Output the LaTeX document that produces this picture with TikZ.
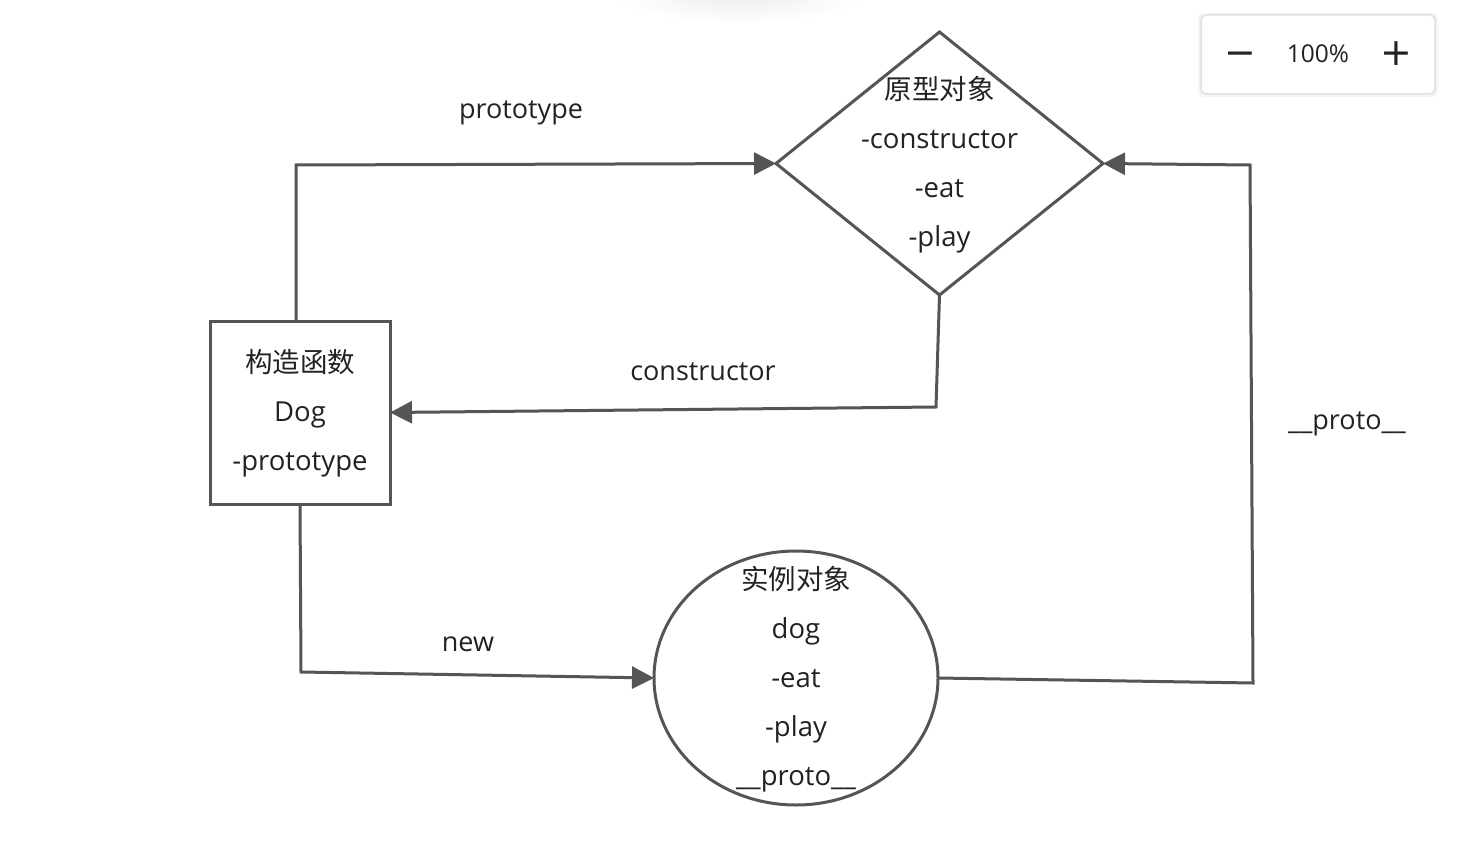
\documentclass[tikz,border=0pt]{standalone}
\usepackage{fontspec}
\setmainfont{Open Sans}
\newfontfamily\cjk{Noto Sans CJK SC}
\newfontfamily\dejavu{DejaVu Sans}
\usetikzlibrary{arrows.meta,shapes.geometric}
\definecolor{lineC}{HTML}{555555}
\definecolor{txtC}{HTML}{222222}
\begin{document}
\begin{tikzpicture}[x=1pt,y=-1pt,
  shapeline/.style={draw=lineC,line width=3pt,fill=white,inner sep=0pt,outer sep=0pt},
  arr/.style={draw=lineC,line width=3pt,-{Triangle[length=22pt,width=22pt]}},
  body/.style={text=txtC,align=center,font=\fontsize{27.5}{49}\selectfont},
  lbl/.style={text=txtC,font=\fontsize{27}{32}\selectfont,inner sep=0pt},
  icon/.style={text=txtC,font=\dejavu\fontsize{38}{38}\selectfont,inner sep=0pt,anchor=base}]
\useasboundingbox (0,0) rectangle (1474,842);
\fill[white] (0,0) rectangle (1474,842);
% top shadow
\begin{scope}
\clip (0,0) rectangle (1474,842);
\shade[inner color=black!8, outer color=white] (740,-10) ellipse (130 and 34);
\end{scope}
% zoom widget
\fill[black!4,rounded corners=6pt] (1198,13) rectangle (1438,97);
\draw[black!12,fill=white,line width=1.5pt,rounded corners=5pt] (1201,15) rectangle (1435,94);
\node[icon] (zminus) at (1240,66) {−};
\node[text=txtC,font=\fontsize{24.5}{28}\selectfont] (zpct) at (1318,54) {100\%};
\node[icon] (zplus) at (1396,66) {+};
% main shapes
\node[shapeline,rectangle,minimum width=180pt,minimum height=183pt] (dog) at (300,412.5) {};
\node[body] at ([yshift=-1pt]dog.center) {{\cjk 构造函数}\\Dog\\-prototype};
\node[shapeline,diamond,minimum width=327pt,minimum height=263pt] (proto) at (939.5,163.5) {};
\node[body] at ([yshift=-1pt]proto.center) {{\cjk 原型对象}\\-constructor\\-eat\\-play};
\node[shapeline,ellipse,minimum width=284pt,minimum height=254pt] (inst) at (796,678) {};
\node[body] at ([yshift=-1pt]inst.center) {{\cjk 实例对象}\\dog\\-eat\\-play\\\_\_proto\_\_};
% connectors
\coordinate (c1) at (296,165);
\draw[arr] (dog.north -| c1) -- (c1) -- (proto.west);
\coordinate (c2) at (936,407);
\draw[arr] (proto.south) -- (c2) -- (dog.east);
\coordinate (c3) at (301,672);
\draw[arr] (dog.south) -- (c3) -- (inst.west);
\coordinate (c4) at (1253,683);
\coordinate (c5) at (1250,165);
\draw[arr] (inst.east) -- (c4) -- (c5) -- (proto.east);
% labels
\node[lbl] (lproto) at (521,113) {prototype};
\node[lbl] (lcons) at (703,372) {constructor};
\node[lbl] (lnew) at (468,644) {new};
\node[lbl] (l__) at (1347,424) {\_\_proto\_\_};
\end{tikzpicture}
\end{document}
